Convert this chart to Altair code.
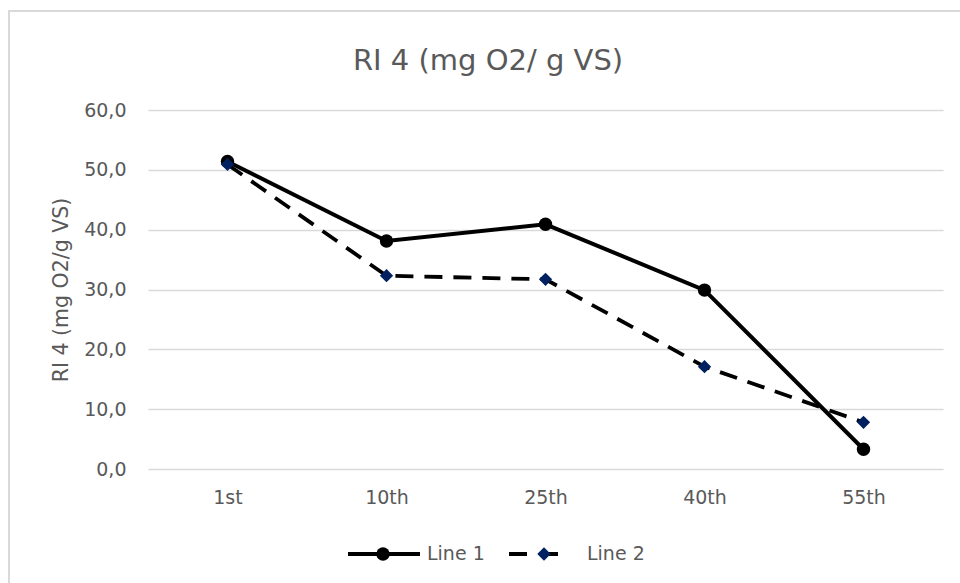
import altair as alt
import pandas as pd

categories = ["1st", "10th", "25th", "40th", "55th"]
line1 = [51.4, 38.1, 40.9, 29.9, 3.3]
line2 = [50.9, 32.3, 31.7, 17.1, 7.8]
series_names = ["Line 1", "Line 2"]
y_ticks = [0, 10, 20, 30, 40, 50, 60]
chart_title = "RI 4 (mg O2/ g VS)"

FONT = "DejaVu Sans"
GRAY = "#595959"
NAVY = "#002060"
W, H = 795, 359

df = pd.DataFrame({
    "cat": categories * 2,
    "val": line1 + line2,
    "series": [series_names[0]] * len(line1) + [series_names[1]] * len(line2),
})

x_enc = alt.X("cat:N", sort=categories,
              scale=alt.Scale(type="point", domain=categories, padding=0.5),
              axis=alt.Axis(title=None, labelAngle=0, domain=False, ticks=False,
                            labelPadding=19, labelFontSize=19, labelColor=GRAY,
                            labelFont=FONT, grid=False))
y_enc = alt.Y("val:Q", scale=alt.Scale(domain=[0, 60], nice=False, zero=True),
              axis=alt.Axis(title="RI 4 (mg O2/g VS)", values=y_ticks, domain=False,
                            ticks=False, tickSize=0, labelPadding=22,
                            labelExpr="replace(format(datum.value, '.1f'), '.', ',')",
                            labelFontSize=19, labelColor=GRAY, labelFont=FONT,
                            gridColor="#d9d9d9", gridWidth=1.3,
                            titleFont=FONT, titleFontSize=20.5, titleColor=GRAY,
                            titleFontWeight="normal", titleX=-87, titleY=H / 2,
                            titleAlign="center", titleBaseline="middle", titleAngle=270))

base = alt.Chart(df)

l1 = base.transform_filter(alt.datum.series == series_names[0])
l2 = base.transform_filter(alt.datum.series == series_names[1])

line1_line = l1.mark_line(color="black", strokeWidth=4).encode(x=x_enc, y=y_enc)
line1_pts = l1.mark_point(shape="circle", filled=True, color="black", size=180, opacity=1).encode(x=x_enc, y=y_enc)
line2_line = l2.mark_line(color="black", strokeWidth=3.8, strokeDash=[18, 11]).encode(x=x_enc, y=y_enc)
line2_pts = l2.mark_point(shape="diamond", filled=True, color=NAVY, size=175, opacity=1).encode(x=x_enc, y=y_enc)

# Border (decorative frame of chart area)
border = alt.Chart(pd.DataFrame({"a": [0]})).mark_rect(
    fill=None, stroke="#d9d9d9", strokeWidth=2
).encode(x=alt.value(-139), x2=alt.value(W + 40), y=alt.value(-99), y2=alt.value(H + 140))

# Title as text
title_df = pd.DataFrame({"t": [chart_title]})
title_mark = alt.Chart(title_df).mark_text(
    font=FONT, fontSize=29, color=GRAY, align="center", baseline="alphabetic"
).encode(x=alt.value(340), y=alt.value(-40), text="t:N")

# Custom legend
leg = pd.DataFrame({
    "series": series_names,
    "lx1": [200, 361],
    "lx2": [272, 413],
    "mx": [235, 396],
    "tx": [279, 439],
    "ly": [444, 444],
})
leg1 = alt.Chart(leg).transform_filter(alt.datum.series == series_names[0])
leg2 = alt.Chart(leg).transform_filter(alt.datum.series == series_names[1])
leg_line1 = leg1.mark_rule(color="black", strokeWidth=4).encode(
    x=alt.X("lx1:Q", scale=None), x2="lx2:Q", y=alt.Y("ly:Q", scale=None))
leg_pt1 = leg1.mark_point(shape="circle", filled=True, color="black", size=180, opacity=1).encode(
    x=alt.X("mx:Q", scale=None), y=alt.Y("ly:Q", scale=None))
leg_line2 = leg2.mark_rule(color="black", strokeWidth=3.8, strokeDash=[18, 13]).encode(
    x=alt.X("lx1:Q", scale=None), x2="lx2:Q", y=alt.Y("ly:Q", scale=None))
leg_pt2 = leg2.mark_point(shape="diamond", filled=True, color=NAVY, size=180, opacity=1).encode(
    x=alt.X("mx:Q", scale=None), y=alt.Y("ly:Q", scale=None))
leg_text = alt.Chart(leg).mark_text(align="left", baseline="middle", font=FONT,
                                    fontSize=19, color=GRAY).encode(
    x=alt.X("tx:Q", scale=None), y=alt.Y("ly:Q", scale=None), text="series:N")

chart = alt.layer(
    border, title_mark, line1_line, line1_pts, line2_line, line2_pts,
    leg_line1, leg_pt1, leg_line2, leg_pt2, leg_text
).properties(
    width=W, height=H,
    autosize=alt.AutoSizeParams(type="none"),
    padding={"left": 148, "top": 110, "right": 17, "bottom": 114},
    background="white",
).configure_view(stroke=None)

chart.save("out.html", embed_options={"renderer": "svg", "actions": False})
